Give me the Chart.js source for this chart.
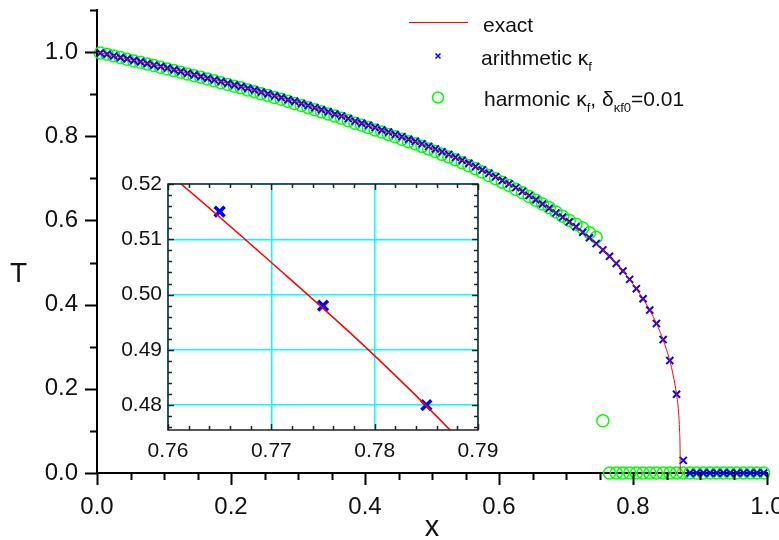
<!DOCTYPE html>
<html>
<head>
<meta charset="utf-8">
<script src="https://cdn.jsdelivr.net/npm/chart.js@4.4.0/dist/chart.umd.min.js"></script>
<style>
  html, body { margin: 0; padding: 0; background: #fff; }
  #wrap { position: relative; width: 779px; height: 540px; overflow: hidden; font-family: 'Liberation Sans', Arial, sans-serif; color: #111; }
  #main { position: absolute; left: 0; top: 0; }
  #inset { position: absolute; left: 100px; top: 160px; }
  .lg { position: absolute; font-size: 21px; line-height: 21px; white-space: nowrap; }
  .lg sub { font-size: 13px; vertical-align: -6px; line-height: 0; }
  #ytitle { position: absolute; left: 10px; top: 259px; font-size: 28px; line-height: 28px; }
</style>
</head>
<body>
<div id="wrap">
  <canvas id="main" width="779" height="540"></canvas>
  <canvas id="inset" width="420" height="310"></canvas>
  <div id="ytitle">T</div>
  <div class="lg" style="left:483px; top:14px;">exact</div>
  <div class="lg" style="left:481px; top:47px;">arithmetic κ<sub>f</sub></div>
  <div class="lg" style="left:484px; top:88px;">harmonic κ<sub>f</sub>, δ<sub>κf0</sub>=0.01</div>
</div>
<script>
// cell centres of the numerical grid
const xCells = [
  0.005, 0.015, 0.025, 0.035, 0.045, 0.055, 0.065, 0.075, 0.085, 0.095,
  0.105, 0.115, 0.125, 0.135, 0.145, 0.155, 0.165, 0.175, 0.185, 0.195,
  0.205, 0.215, 0.225, 0.235, 0.245, 0.255, 0.265, 0.275, 0.285, 0.295,
  0.305, 0.315, 0.325, 0.335, 0.345, 0.355, 0.365, 0.375, 0.385, 0.395,
  0.405, 0.415, 0.425, 0.435, 0.445, 0.455, 0.465, 0.475, 0.485, 0.495,
  0.505, 0.515, 0.525, 0.535, 0.545, 0.555, 0.565, 0.575, 0.585, 0.595,
  0.605, 0.615, 0.625, 0.635, 0.645, 0.655, 0.665, 0.675, 0.685, 0.695,
  0.705, 0.715, 0.725, 0.735, 0.745, 0.755, 0.765, 0.775, 0.785, 0.795,
  0.805, 0.815, 0.825, 0.835, 0.845, 0.855, 0.865, 0.875, 0.885, 0.895,
  0.905, 0.915, 0.925, 0.935, 0.945, 0.955, 0.965, 0.975, 0.985, 0.995
];

// arithmetic mean conductivity
const tArith = [
  0.998, 0.995, 0.991, 0.987, 0.984, 0.980, 0.977, 0.973, 0.969, 0.966,
  0.962, 0.958, 0.954, 0.950, 0.946, 0.942, 0.938, 0.934, 0.930, 0.926,
  0.922, 0.918, 0.914, 0.910, 0.905, 0.901, 0.896, 0.892, 0.887, 0.883,
  0.878, 0.873, 0.868, 0.863, 0.858, 0.853, 0.848, 0.842, 0.836, 0.831,
  0.826, 0.821, 0.815, 0.810, 0.804, 0.799, 0.793, 0.788, 0.782, 0.776,
  0.770, 0.763, 0.757, 0.750, 0.743, 0.736, 0.728, 0.720, 0.712, 0.704,
  0.695, 0.687, 0.678, 0.669, 0.659, 0.649, 0.639, 0.629, 0.618, 0.608,
  0.597, 0.585, 0.572, 0.559, 0.545, 0.530, 0.515, 0.498, 0.480, 0.460,
  0.438, 0.414, 0.387, 0.355, 0.317, 0.267, 0.187, 0.030, 0, 0,
  0, 0, 0, 0, 0, 0, 0, 0, 0, 0
];

// harmonic mean conductivity, delta = 0.01
const tHarm = [
  0.998, 0.995, 0.991, 0.987, 0.983, 0.979, 0.976, 0.972, 0.968, 0.964,
  0.960, 0.956, 0.952, 0.948, 0.944, 0.940, 0.936, 0.932, 0.927, 0.923,
  0.919, 0.915, 0.910, 0.906, 0.901, 0.897, 0.892, 0.888, 0.883, 0.878,
  0.873, 0.868, 0.863, 0.858, 0.853, 0.848, 0.843, 0.837, 0.831, 0.826,
  0.821, 0.815, 0.810, 0.804, 0.799, 0.793, 0.787, 0.782, 0.776, 0.770,
  0.764, 0.757, 0.751, 0.744, 0.737, 0.730, 0.723, 0.715, 0.707, 0.699,
  0.691, 0.683, 0.674, 0.666, 0.657, 0.648, 0.639, 0.630, 0.620, 0.610,
  0.600, 0.591, 0.582, 0.571, 0.560, 0.124, 0, 0, 0, 0,
  0, 0, 0, 0, 0, 0, 0, 0, 0, 0,
  0, 0, 0, 0, 0, 0, 0, 0, 0, 0
];

// exact solution
const xExact = [0, 0.05, 0.1, 0.15, 0.2, 0.25, 0.3, 0.35, 0.4, 0.45, 0.5, 0.55, 0.6, 0.65, 0.7, 0.73, 0.75,
  0.7612, 0.77, 0.7794, 0.7878, 0.8, 0.81, 0.82, 0.83, 0.84, 0.85, 0.855, 0.86, 0.865, 0.868, 0.8695, 0.8703, 0.8705];
const tExact = [1.0, 0.982, 0.964, 0.944, 0.924, 0.903, 0.880, 0.855, 0.828, 0.801, 0.772, 0.739, 0.699, 0.654, 0.602, 0.565, 0.537,
  0.5201, 0.5058, 0.490, 0.4745, 0.449, 0.426, 0.401, 0.372, 0.337, 0.293, 0.267, 0.232, 0.187, 0.145, 0.10, 0.05, 0.0];

const FONT = "'Liberation Sans', Arial, sans-serif";
Chart.defaults.font.family = FONT;
Chart.defaults.color = '#111';

const pts = (xs, ys) => xs.map((x, i) => ({x: x, y: ys[i]}));

// tick marks with major / minor lengths, drawn from the scales
const tickMarks = {
	id: 'tickMarks',
	afterDraw(chart, args, opts) {
		const ctx = chart.ctx;
		const {left, right, top, bottom} = chart.chartArea;
		ctx.save();
		ctx.strokeStyle = opts.color;
		ctx.lineWidth = opts.width;
		ctx.beginPath();
		['x', 'y'].forEach(axis => {
			const scale = chart.scales[axis];
			const o = opts[axis];
			const first = Math.ceil(scale.min / o.step - 1e-6);
			const last = Math.floor(scale.max / o.step + 1e-6);
			for (let i = first; i <= last; i++) {
				const len = (i % o.every === 0) ? o.major : o.minor;
				const p = Math.round(scale.getPixelForValue(i * o.step)) + 0.5;
				if (axis === 'x') {
					if (opts.inside) {
						ctx.moveTo(p, bottom); ctx.lineTo(p, bottom - len);
						ctx.moveTo(p, top); ctx.lineTo(p, top + len);
					} else {
						ctx.moveTo(p, bottom); ctx.lineTo(p, bottom + len);
					}
				} else {
					if (opts.inside) {
						ctx.moveTo(left, p); ctx.lineTo(left + len, p);
						ctx.moveTo(right, p); ctx.lineTo(right - len, p);
					} else {
						ctx.moveTo(left, p); ctx.lineTo(left - len, p);
					}
				}
			}
		});
		ctx.stroke();
		if (opts.frame) {
			ctx.lineWidth = opts.frame;
			ctx.strokeRect(left, top, right - left, bottom - top);
		}
		ctx.restore();
	}
};

// white panel behind the inset plot
const panel = {
	id: 'panel',
	beforeDraw(chart) {
		const {left, top, width, height} = chart.chartArea;
		chart.ctx.save();
		chart.ctx.fillStyle = '#fff';
		chart.ctx.fillRect(left, top, width, height);
		chart.ctx.restore();
	}
};

// legend symbols (text is in the page)
const legendMarks = {
	id: 'legendMarks',
	afterDraw(chart) {
		const ctx = chart.ctx;
		ctx.save();
		ctx.strokeStyle = '#ff0000';
		ctx.lineWidth = 1;
		ctx.beginPath(); ctx.moveTo(409, 22.5); ctx.lineTo(468, 22.5); ctx.stroke();
		ctx.strokeStyle = '#0000ff';
		ctx.lineWidth = 1.5;
		ctx.beginPath();
		ctx.moveTo(435.5, 53.5); ctx.lineTo(440.5, 58.5);
		ctx.moveTo(440.5, 53.5); ctx.lineTo(435.5, 58.5);
		ctx.stroke();
		ctx.strokeStyle = '#00ff00';
		ctx.lineWidth = 1.5;
		ctx.beginPath(); ctx.arc(438, 97.5, 5.5, 0, Math.PI * 2); ctx.stroke();
		ctx.restore();
	}
};

new Chart(document.getElementById('main'), {
	type: 'scatter',
	data: {
		datasets: [
			{
				label: 'exact',
				data: pts(xExact, tExact),
				showLine: true,
				borderColor: '#ff0000',
				borderWidth: 1,
				pointRadius: 0,
				cubicInterpolationMode: 'monotone',
				clip: false
			},
			{
				label: 'arithmetic',
				data: pts(xCells, tArith),
				pointStyle: 'crossRot',
				pointRadius: 5,
				borderColor: '#0000ff',
				borderWidth: 2,
				clip: false
			},
			{
				label: 'harmonic',
				data: pts(xCells, tHarm),
				pointStyle: 'circle',
				pointRadius: 6,
				borderColor: '#00ff00',
				backgroundColor: 'rgba(0,0,0,0)',
				borderWidth: 1.5,
				clip: false
			}
		]
	},
	options: {
		responsive: false,
		animation: false,
		layout: {padding: {left: 0, right: 12, top: 10, bottom: 0}},
		plugins: {
			legend: {display: false},
			tooltip: {enabled: false},
			tickMarks: {
				color: '#000', width: 2, inside: false,
				x: {step: 0.05, every: 4, major: 12, minor: 7},
				y: {step: 0.1, every: 2, major: 12, minor: 7}
			}
		},
		scales: {
			x: {
				type: 'linear', min: 0, max: 1,
				ticks: {
					stepSize: 0.05, autoSkip: false, maxRotation: 0, padding: 20,
					font: {size: 24}, color: '#111',
					callback: v => Math.round(v * 100) % 20 === 0 ? v.toFixed(1) : ''
				},
				grid: {display: false, drawTicks: false},
				border: {display: true, color: '#000', width: 2},
				title: {display: true, text: 'x', font: {size: 29, lineHeight: 0.8}, color: '#111', padding: 0},
				afterFit: s => { s.height = 67; s.paddingLeft = 0; s.paddingRight = 0; }
			},
			y: {
				type: 'linear', min: 0, max: 1.1,
				ticks: {
					stepSize: 0.1, autoSkip: false, padding: 19,
					font: {size: 24}, color: '#111',
					callback: v => Math.round(v * 10) % 2 === 0 ? v.toFixed(1) : ''
				},
				grid: {display: false, drawTicks: false},
				border: {display: true, color: '#000', width: 2},
				afterFit: s => { s.width = 97; s.paddingTop = 0; s.paddingBottom = 0; }
			}
		}
	},
	plugins: [tickMarks, legendMarks]
});

const isMajor = v => Math.abs(Math.round(v * 100) - v * 100) < 1e-6;

new Chart(document.getElementById('inset'), {
	type: 'scatter',
	data: {
		datasets: [
			{
				label: 'exact',
				data: pts(xExact, tExact),
				showLine: true,
				borderColor: '#ff0000',
				borderWidth: 1.5,
				pointRadius: 0,
				cubicInterpolationMode: 'monotone'
			},
			{
				label: 'arithmetic',
				data: pts(xCells, tArith),
				pointStyle: 'crossRot',
				pointRadius: 7,
				borderColor: '#0000ff',
				borderWidth: 3.5
			}
		]
	},
	options: {
		responsive: false,
		animation: false,
		layout: {padding: {left: 0, right: 42, top: 24, bottom: 0}},
		plugins: {
			legend: {display: false},
			tooltip: {enabled: false},
			tickMarks: {
				color: '#222', width: 1.5, inside: true, frame: 1.5,
				x: {step: 0.002, every: 5, major: 6, minor: 4},
				y: {step: 0.002, every: 5, major: 6, minor: 4}
			}
		},
		scales: {
			x: {
				type: 'linear', min: 0.76, max: 0.79,
				ticks: {
					stepSize: 0.002, autoSkip: false, maxRotation: 0, padding: 9,
					font: {size: 21}, color: '#111',
					callback: v => isMajor(v) ? v.toFixed(2) : ''
				},
				grid: {
					drawTicks: false, lineWidth: 1.5,
					color: c => (c.tick && isMajor(c.tick.value)) ? '#00ffff' : 'rgba(0,0,0,0)'
				},
				border: {display: false},
				afterFit: s => { s.height = 40; s.paddingLeft = 0; s.paddingRight = 0; }
			},
			y: {
				type: 'linear', min: 0.4755, max: 0.52,
				ticks: {
					stepSize: 0.002, autoSkip: false, padding: 6,
					font: {size: 21}, color: '#111',
					callback: v => isMajor(v) ? v.toFixed(2) : ''
				},
				grid: {
					drawTicks: false, lineWidth: 1.5,
					color: c => (c.tick && isMajor(c.tick.value)) ? '#00ffff' : 'rgba(0,0,0,0)'
				},
				border: {display: false},
				afterFit: s => { s.width = 68; s.paddingTop = 0; s.paddingBottom = 0; }
			}
		}
	},
	plugins: [panel, tickMarks]
});
</script>
</body>
</html>
